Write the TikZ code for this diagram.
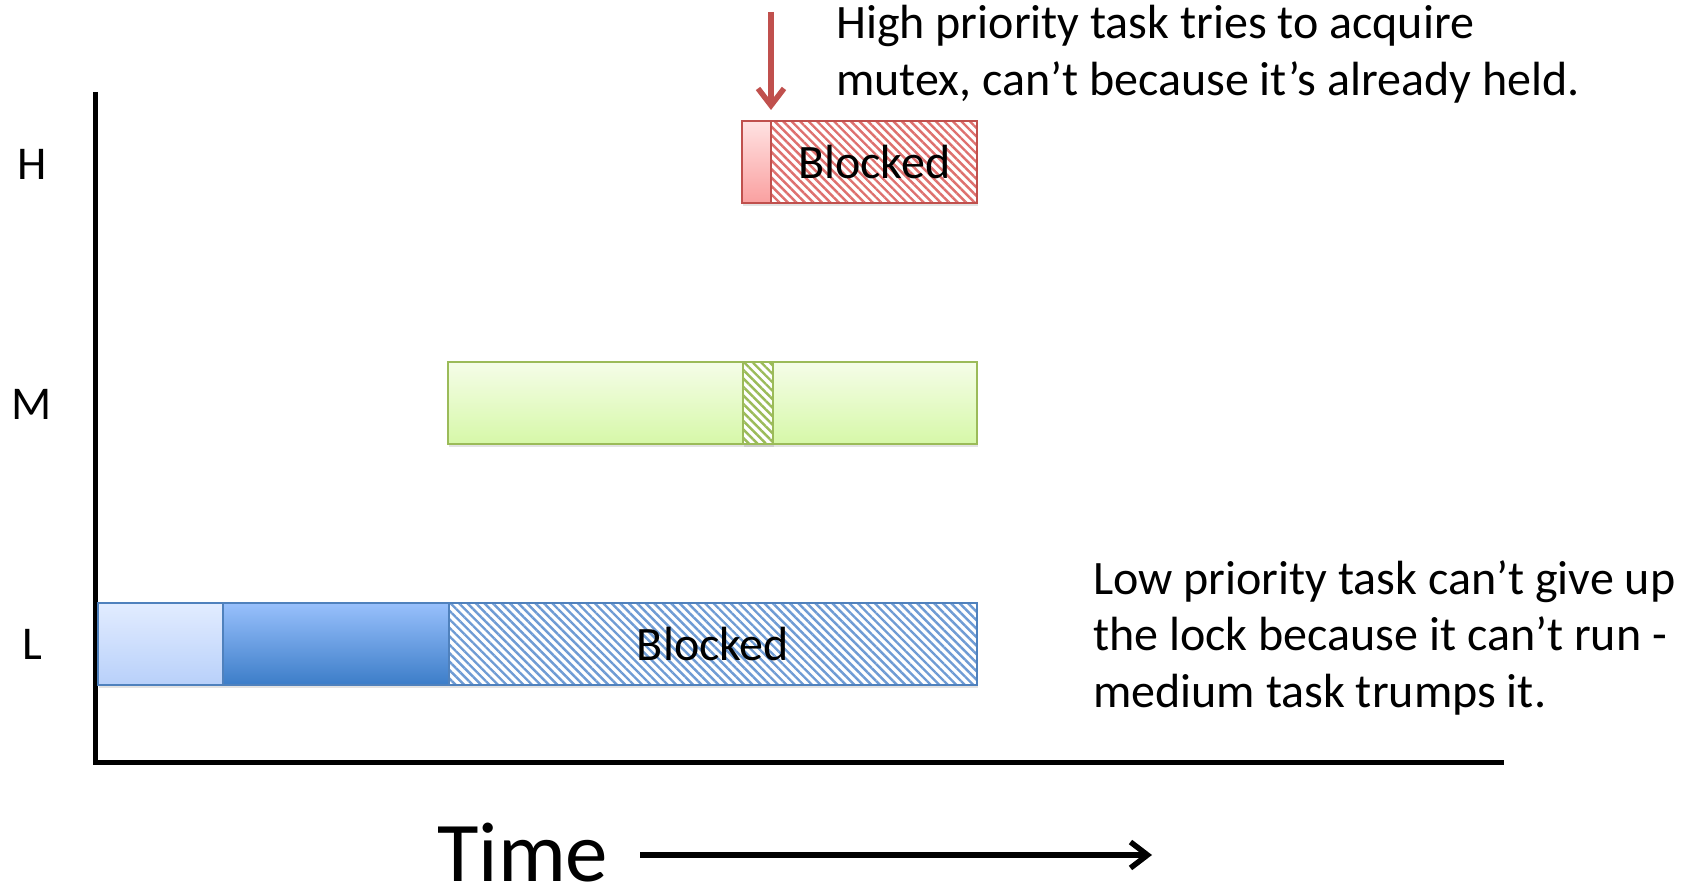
\documentclass[tikz,border=0pt]{standalone}
\usepackage{fontspec}
\setmainfont{Carlito}
\usetikzlibrary{arrows.meta,patterns.meta,shadows}
\definecolor{redline}{RGB}{192,80,77}
\definecolor{redhatch}{RGB}{222,112,110}
\definecolor{redtop}{RGB}{255,226,226}
\definecolor{redbot}{RGB}{250,160,160}
\definecolor{greenline}{RGB}{155,187,89}
\definecolor{greentop}{RGB}{245,253,232}
\definecolor{greenbot}{RGB}{214,248,168}
\definecolor{blueline}{RGB}{79,129,189}
\definecolor{bluehatch}{RGB}{110,155,212}
\definecolor{ltbluetop}{RGB}{226,236,255}
\definecolor{ltbluebot}{RGB}{184,208,250}
\definecolor{dkbluetop}{RGB}{152,192,252}
\definecolor{dkbluebot}{RGB}{60,125,200}
\begin{document}
\begin{tikzpicture}[x=1pt,y=1pt,
  bar/.style={draw, line width=2pt, inner sep=0pt, minimum height=82pt, anchor=south west,
    drop shadow={shadow xshift=1pt,shadow yshift=-3pt,opacity=0.22}},
  hatchbar/.style={bar, preaction={fill=white}, pattern={Lines[angle=-45,distance=6pt,line width=2.4pt]}},
  txt/.style={font=\fontsize{48}{57}\selectfont, inner sep=0pt, anchor=base west},
  lbl/.style={font=\fontsize{47}{57}\selectfont, inner sep=0pt, anchor=base},
  blk/.style={font=\fontsize{48}{57}\selectfont},
  arr/.style={line width=5.5pt, -{Straight Barb[length=17pt,width=26pt]}},
]
\useasboundingbox (0,0) rectangle (1688,891);
% axes
\coordinate (ytop) at (95.5,799);
\coordinate (origin) at (95.5,128.5);
\coordinate (xend) at (1504,128.5);
\draw[line width=5pt] (ytop) -- (origin) -- (xend);
% labels
\node[lbl] (lH) at (32,711) {H};
\node[lbl] (lM) at (32,471) {M};
\node[lbl] (lL) at (32,231) {L};
% H bar
\node[bar, draw=redline, top color=redtop, bottom color=redbot, minimum width=29pt] (hrun) at (741,687) {};
\node[hatchbar, draw=redline, pattern color=redhatch, minimum width=206pt, blk] (hblk) at (770,687) {Blocked};
% M bar
\node[bar, draw=greenline, top color=greentop, bottom color=greenbot, minimum width=529pt] (mrun) at (447,446) {};
\node[hatchbar, draw=greenline, pattern color=greenline, minimum width=30pt] (mblk) at (742,446) {};
% L bar
\node[bar, draw=blueline, top color=ltbluetop, bottom color=ltbluebot, minimum width=125pt] (lrun1) at (97,205) {};
\node[bar, draw=blueline, top color=dkbluetop, bottom color=dkbluebot, minimum width=226pt] (lrun2) at (222,205) {};
\node[hatchbar, draw=blueline, pattern color=bluehatch, minimum width=528pt, blk] (lblk) at (448,205) {Blocked};
% red arrow
\coordinate (hatop) at (771,879);
\coordinate (hatip) at (771,781);
\draw[redline, arr] (hatop) -- (hatip);
% texts
\node[txt] (t1) at (836,852) {High priority task tries to acquire};
\node[txt] (t2) at (836,795) {mutex, can’t because it’s already held.};
\node[txt] (t3) at (1093,296) {Low priority task can’t give up};
\node[txt] (t4) at (1093,240) {the lock because it can’t run -};
\node[txt] (t5) at (1093,183) {medium task trumps it.};
% time
\node[font=\fontsize{85}{100}\selectfont, inner sep=0pt, anchor=base west] (time) at (437,10) {Time};
\coordinate (tstart) at (640,36);
\coordinate (tend) at (1152,36);
\draw[arr] (tstart) -- (tend);
\end{tikzpicture}
\end{document}
